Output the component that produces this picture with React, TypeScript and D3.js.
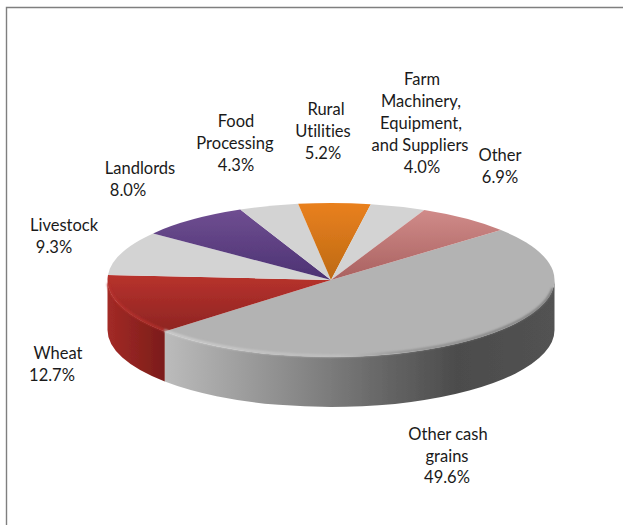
import React from "react";
import * as d3 from "d3";

const sliceNames = ["Other cash grains", "Wheat", "Livestock", "Landlords", "Food Processing", "Rural Utilities", "Farm Machinery", "Other"];
const sliceValues = [49.6, 12.7, 9.3, 8.0, 4.3, 5.2, 4.0, 6.9];
const sliceFills = ["#b3b3b3", "url(#topRed)", "#d3d3d3", "url(#topPurple)", "#d3d3d3", "url(#topOrange)", "#d3d3d3", "url(#topPink)"];
const wallFills = ["url(#wallGrey)", "url(#wallRed)", "#999", "#999", "#999", "#999", "#999", "#999"];
const rimFills = ["url(#rimGrey)", "#b8332e", "none", "none", "none", "none", "none", "none"];
const labelLines: [string, number, number][] = [
  ["Farm", 422, 85], ["Machinery,", 421, 107], ["Equipment,", 421, 129], ["and Suppliers", 420, 151], ["4.0%", 422, 173],
  ["Other", 500, 161], ["6.9%", 500, 183],
  ["Rural", 326, 115], ["Utilities", 323, 137], ["5.2%", 323, 159],
  ["Food", 236, 127], ["Processing", 235, 149], ["4.3%", 236, 171],
  ["Landlords", 140, 174], ["8.0%", 128, 196],
  ["Livestock", 64, 231], ["9.3%", 54, 253],
  ["Wheat", 58, 359], ["12.7%", 52, 381],
  ["Other cash", 448, 440], ["grains", 447, 462], ["49.6%", 447, 483],
];

const W = 623, H = 525;
const cx = 331, cy = 280, rx = 223.5, ry = 77, depth = 50;
const startDeg = 49.5;

export default function App() {
  const pie = d3.pie<number>().sort(null).startAngle((startDeg * Math.PI) / 180).endAngle(((startDeg + 360) * Math.PI) / 180);
  const arcs = pie(sliceValues);
  const arc = d3.arc<d3.PieArcDatum<number>>().innerRadius(0).outerRadius(rx);
  const px = (a: number) => cx + rx * Math.sin(a);
  const py = (a: number, d: number) => cy - ry * Math.cos(a) + d;
  const frontStart = Math.PI / 2, frontEnd = (3 * Math.PI) / 2;
  const clipped = arcs.map((s) => {
    const a0 = Math.max(s.startAngle, frontStart), a1 = Math.min(s.endAngle, frontEnd);
    return a1 > a0 ? [a0, a1] : null;
  });
  const wallPath = (r: number[]) =>
    `M${px(r[0])},${py(r[0], 0)}A${rx},${ry} 0 0 1 ${px(r[1])},${py(r[1], 0)}L${px(r[1])},${py(r[1], depth)}A${rx},${ry} 0 0 0 ${px(r[0])},${py(r[0], depth)}Z`;
  const rimPath = (a0: number, a1: number) =>
    `M${px(a0)},${py(a0, 0)}A${rx},${ry} 0 0 1 ${px(a1)},${py(a1, 0)}`;

  return (
    <svg width={W} height={H} viewBox={`0 0 ${W} ${H}`} style={{ position: "absolute", left: 0, top: 0, background: "#fff" }}>
      <defs>
        <linearGradient id="wallGrey" gradientUnits="userSpaceOnUse" x1="163" x2="554" y1="0" y2="0">
          <stop offset="0" stopColor="#bcbcbc" />
          <stop offset="0.3" stopColor="#8f8f8f" />
          <stop offset="0.55" stopColor="#686868" />
          <stop offset="0.75" stopColor="#4c4c4c" />
          <stop offset="1" stopColor="#525252" />
        </linearGradient>
        <linearGradient id="wallRed" gradientUnits="userSpaceOnUse" x1="107" x2="163" y1="0" y2="0">
          <stop offset="0" stopColor="#a32a26" />
          <stop offset="1" stopColor="#7c1d1a" />
        </linearGradient>
        <linearGradient id="rimGrey" gradientUnits="userSpaceOnUse" x1="163" x2="554" y1="0" y2="0">
          <stop offset="0" stopColor="#d2d2d2" />
          <stop offset="0.45" stopColor="#c2c2c2" />
          <stop offset="0.62" stopColor="#8a8a8a" />
          <stop offset="1" stopColor="#6a6a6a" />
        </linearGradient>
        <linearGradient id="topRed" x1="0" x2="0" y1="0" y2="1">
          <stop offset="0" stopColor="#b8322d" />
          <stop offset="1" stopColor="#8e2522" />
        </linearGradient>
        <linearGradient id="topPurple" x1="0" x2="0" y1="0" y2="1">
          <stop offset="0" stopColor="#6f4e91" />
          <stop offset="1" stopColor="#4c3273" />
        </linearGradient>
        <linearGradient id="topOrange" x1="0" x2="0" y1="0" y2="1">
          <stop offset="0" stopColor="#e9801f" />
          <stop offset="1" stopColor="#bd6a13" />
        </linearGradient>
        <linearGradient id="topPink" x1="0" x2="0" y1="0" y2="1">
          <stop offset="0" stopColor="#d08b89" />
          <stop offset="1" stopColor="#a96160" />
        </linearGradient>
        <filter id="soft" x="-5%" y="-5%" width="110%" height="110%">
          <feGaussianBlur stdDeviation="0.7" />
        </filter>
        <filter id="softer" x="-5%" y="-20%" width="110%" height="140%">
          <feGaussianBlur stdDeviation="1.2" />
        </filter>
      </defs>

      <path d="M6.5,525V7.5H623" fill="none" stroke="#7f7f7f" strokeWidth="1.4" />

      <g filter="url(#soft)">
        {arcs.map((s, i) =>
          clipped[i] ? <path key={sliceNames[i] + "w"} d={wallPath(clipped[i]!)} fill={wallFills[i]} /> : null
        )}
        <g transform={`translate(${cx},${cy}) scale(1,${ry / rx})`}>
          {arcs.map((s, i) => (
            <path key={sliceNames[i]} d={arc(s)!} fill={sliceFills[i]} />
          ))}
        </g>
      </g>
      <g filter="url(#softer)">
        {arcs.map((s, i) => {
          if (rimFills[i] === "none" || !clipped[i]) return null;
          return (
            <path
              key={sliceNames[i] + "r"}
              d={rimPath(clipped[i]![0] + (i === 0 ? 0.12 : 0), clipped[i]![1] - (i === 1 ? 0.06 : 0))}
              transform="translate(0,-1)"
              fill="none"
              stroke={rimFills[i]}
              strokeWidth="2"
            />
          );
        })}
      </g>

      <g fontFamily="Lato, sans-serif" fontSize="16.5" fill="#1a1a1a" textAnchor="middle" style={{ fontVariantLigatures: "none" }}>
        {labelLines.map(([t, x, y]) => (
          <text key={t + x + y} x={x} y={y}>{t}</text>
        ))}
      </g>
    </svg>
  );
}
